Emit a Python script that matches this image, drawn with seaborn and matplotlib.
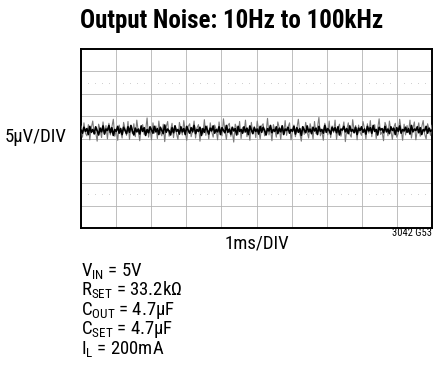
import numpy as np
import pandas as pd
import matplotlib
matplotlib.use("Agg")
import matplotlib.pyplot as plt
from matplotlib import font_manager
import seaborn as sns

# Scope settings
volts_per_div = 5.0      # µV per vertical division
time_per_div = 1.0       # ms per horizontal division
n_xdiv = 10
n_ydiv = 8

# Persistence envelope of the noise trace (µV)
envelope_uv = [
    2.8, 0.3, 3.5, 1.2, 0.6, 3.1, -0.3, 2.4, 3.9, 0.9,
    1.4, -0.6, 3.2, 2.1, 0.2, 3.7, 1.0, 2.9, -0.1, 3.4,
    0.8, 2.6, 4.3, 0.5, 1.9, -0.4, 3.0, 1.5, 0.1, 3.6,
    2.2, 0.7, 3.8, -0.2, 2.7, 1.1, 3.3, 0.4, 4.1, 1.6,
    -0.5, 2.5, 3.1, 0.9, 1.8, 4.6, 0.3, 2.2, -0.3, 3.5,
    1.2, 2.8, 0.0, 3.9, 1.4, 0.6, 3.2, -0.7, 2.6, 3.8,
    0.5, 1.9, 3.4, 0.2, 2.9, 1.1, -0.2, 3.6, 2.0, 0.8,
    4.0, 1.3, -0.4, 2.7, 3.3, 0.4, 1.7, 3.9, 0.1, 2.4,
    3.1, -0.6, 2.2, 1.0, 4.2, 0.7, 2.8, -0.1, 3.5, 1.5,
    0.3, 3.0, 2.1, -0.3, 3.7, 1.2, 0.6, 4.4, 1.8, -0.2,
    2.9, 3.4, 0.5, 1.6, -0.8, 3.2, 2.3, 0.9, 3.8, 0.0,
    2.5, 1.3, 4.1, 0.4, 2.0, -0.4, 3.6, 1.1, 2.7, 0.2,
    3.9, 1.7, -0.1, 2.8, 3.3, 0.6, 1.4, 4.5, 0.8, 2.2,
    -0.5, 3.1, 1.9, 0.3, 3.7, 2.4, -0.2, 2.9, 1.0, 4.0,
    0.7, 2.6, 3.5, -0.3, 1.8, 3.0, 0.4, 2.3, 4.3, 1.2,
    -0.6, 2.7, 0.9, 3.6, 1.5, 0.1, 3.3, 2.0, -0.1, 3.8,
    1.1, 2.5, 4.7, 0.6, 1.7, -0.4, 3.4, 2.2, 0.8, 3.9,
    0.2, 2.8, 1.3, 4.1, -0.2, 2.4, 3.2, 0.5, 1.9, 3.7,
    -0.7, 2.1, 3.5, 1.0, 0.3, 4.2, 1.6, 2.9, -0.3, 3.0,
    1.4, 0.7, 3.8, 2.3, -0.1, 3.3, 1.2, 4.0, 0.4, 2.6,
    3.1, 0.0, 2.2, 4.4, 0.9, 1.5, -0.5, 3.6, 2.7, 0.6,
    3.9, 1.8, -0.2, 2.5, 3.4, 0.3, 1.1, 4.3, 2.0, -0.4,
    3.2, 0.8, 2.9, 1.4, 4.1, 0.1, 2.3, 3.7, -0.3, 1.9,
    3.5, 0.5, 2.6, 4.0, 1.0, -0.1, 3.3, 2.1, 0.7, 3.0,
]

# Dense core of the noise trace (µV)
core_uv = [
    1.9, 1.2, 2.5, 1.6, 2.2, 0.9, 2.7, 1.4, 2.0, 1.1,
    2.6, 1.7, 0.8, 2.3, 1.5, 2.8, 1.0, 2.1, 1.8, 2.9,
    1.3, 2.4, 0.7, 2.0, 1.6, 2.7, 1.2, 2.2, 0.9, 2.5,
    1.8, 1.1, 2.6, 1.4, 2.9, 1.7, 0.8, 2.3, 1.5, 2.1,
    1.0, 2.8, 1.6, 2.4, 0.7, 2.0, 1.3, 2.6, 1.9, 1.2,
    2.7, 1.5, 2.2, 0.9, 2.5, 1.8, 1.1, 3.0, 1.4, 2.1,
    1.7, 0.8, 2.4, 1.3, 2.8, 1.6, 2.0, 1.0, 2.6, 1.5,
    2.2, 0.9, 2.7, 1.8, 1.2, 2.4, 1.5, 2.9, 1.1, 2.0,
    1.6, 2.5, 0.7, 2.2, 1.4, 2.7, 1.9, 1.0, 2.3, 1.7,
    2.8, 1.2, 2.0, 1.5, 2.6, 0.9, 2.4, 1.8, 1.3, 2.9,
    1.4, 2.1, 1.0, 2.5, 1.7, 2.2, 0.8, 2.7, 1.6, 2.0,
    1.2, 2.6, 1.5, 2.3, 0.9, 2.8, 1.9, 1.1, 2.4, 1.6,
    2.1, 1.0, 2.7, 1.4, 2.5, 1.8, 0.8, 2.2, 1.7, 2.9,
    1.3, 2.0, 1.6, 2.6, 1.1, 2.3, 1.5, 2.8, 0.9, 2.1,
    1.8, 2.5, 1.2, 2.0, 1.6, 2.7, 1.0, 2.4, 1.4, 2.2,
    0.7, 2.6, 1.9, 1.3, 2.8, 1.5, 2.1, 1.1, 2.5, 1.7,
    2.3, 0.9, 2.7, 1.6, 2.0, 1.2, 2.9, 1.4, 2.2, 1.8,
    1.0, 2.5, 1.7, 2.4, 1.3, 2.6, 0.8, 2.1, 1.9, 2.7,
    1.5, 2.2, 1.1, 2.8, 1.6, 2.0, 1.3, 2.5, 0.9, 2.3,
    1.8, 2.6, 1.4, 2.1, 1.0, 2.7, 1.7, 2.4, 1.2, 2.9,
    1.6, 2.0, 0.8, 2.5, 1.9, 2.2, 1.3, 2.7, 1.5, 2.1,
    1.1, 2.6, 1.8, 2.3, 0.9, 2.4, 1.6, 2.8, 1.2, 2.0,
    1.7, 2.5, 1.4, 2.2, 1.0, 2.9, 1.5, 2.1, 1.8, 2.6,
    1.3, 2.4, 0.9, 2.0, 1.7, 2.7, 1.2, 2.3, 1.6, 1.9,
]

title = "Output Noise: 10Hz to 100kHz"
y_label = "5µV/DIV"
x_label = "1ms/DIV"
fig_id = "3042 G53"
conditions = [
    r"$\mathregular{V_{IN}}$ = 5V",
    r"$\mathregular{R_{SET}}$ = 33.2kΩ",
    r"$\mathregular{C_{OUT}}$ = 4.7µF",
    r"$\mathregular{C_{SET}}$ = 4.7µF",
    r"$\mathregular{I_{L}}$ = 200mA",
]

sns.set_style("white")

# prefer a narrow sans if one is installed
names = {f.name for f in font_manager.fontManager.ttflist}
font = "Liberation Sans"
for cand in ["Liberation Sans Narrow", "Roboto Condensed", "Open Sans Condensed",
             "Arial Narrow", "Nimbus Sans Narrow", "DejaVu Sans Condensed"]:
    if cand in names:
        font = cand
        break

plt.rcParams["font.family"] = [font, "DejaVu Sans"]
plt.rcParams["text.color"] = "black"
plt.rcParams["mathtext.fontset"] = "custom"
plt.rcParams["mathtext.rm"] = font
plt.rcParams["mathtext.it"] = font
plt.rcParams["mathtext.bf"] = font + ":bold"

W, H = 433, 366
fig = plt.figure(figsize=(W / 100, H / 100), dpi=100)

# graticule box in pixel coordinates
left, right, top, bottom = 81, 432, 49, 228
ax = fig.add_axes([left / W, 1 - bottom / H, (right - left) / W, (bottom - top) / H])

x_span = n_xdiv * time_per_div
y_half = n_ydiv / 2 * volts_per_div

env = pd.DataFrame({"t": np.linspace(0, x_span, len(envelope_uv)), "v": envelope_uv})
core = pd.DataFrame({"t": np.linspace(0, x_span, len(core_uv)), "v": core_uv})

sns.lineplot(data=env, x="t", y="v", ax=ax, color="#7a7a7a", lw=0.8, zorder=3)
sns.lineplot(data=core, x="t", y="v", ax=ax, color="black", lw=1.3, zorder=4)

ax.set_xlim(0, x_span)
ax.set_ylim(-y_half, y_half)
ax.set_xticks(np.arange(0, x_span + 0.01, time_per_div))
ax.set_yticks(np.arange(-y_half, y_half + 0.01, volts_per_div))
ax.set_xticklabels([])
ax.set_yticklabels([])
ax.tick_params(length=0)
ax.set_xlabel("")
ax.set_ylabel("")
ax.grid(True, color="#b4b4b4", lw=0.6)
ax.set_axisbelow(True)

# minor dot rows on the graticule
dot_x = [i * 0.2 for i in range(int(x_span / 0.2) + 1) if i % 5]
for yy in (2.5 * volts_per_div, -2.5 * volts_per_div):
    ax.scatter(dot_x, [yy] * len(dot_x), s=0.4, color="#c8c8c8", zorder=1, linewidths=0)

for s in ax.spines.values():
    s.set_visible(True)
    s.set_color("black")
    s.set_linewidth(1.4)


def fx(px):
    return px / W


def fy(py):
    return 1 - py / H


renderer = fig.canvas.get_renderer()


def fit_width(t, target_px):
    """Scale a text's font size so that its drawn width is target_px."""
    w = t.get_window_extent(renderer=renderer).width
    t.set_fontsize(t.get_fontsize() * target_px / w)
    return t


fit_width(fig.text(fx(232), fy(28), title, ha="center", va="baseline",
                   fontsize=20, fontweight="bold"), 303)
fig.text(fx(5), fy(137), y_label, ha="left", va="center", fontsize=13.5)
fig.text(fx(257), fy(244), x_label, ha="center", va="center", fontsize=13.5)
fit_width(fig.text(fx(432), fy(233), fig_id, ha="right", va="center", fontsize=6), 40)

baselines = [276, 295.5, 315, 334.5, 354]
for txt, b in zip(conditions, baselines):
    fig.text(fx(81), fy(b), txt, ha="left", va="baseline", fontsize=13.5)

fig.savefig("out.png", dpi=100)
